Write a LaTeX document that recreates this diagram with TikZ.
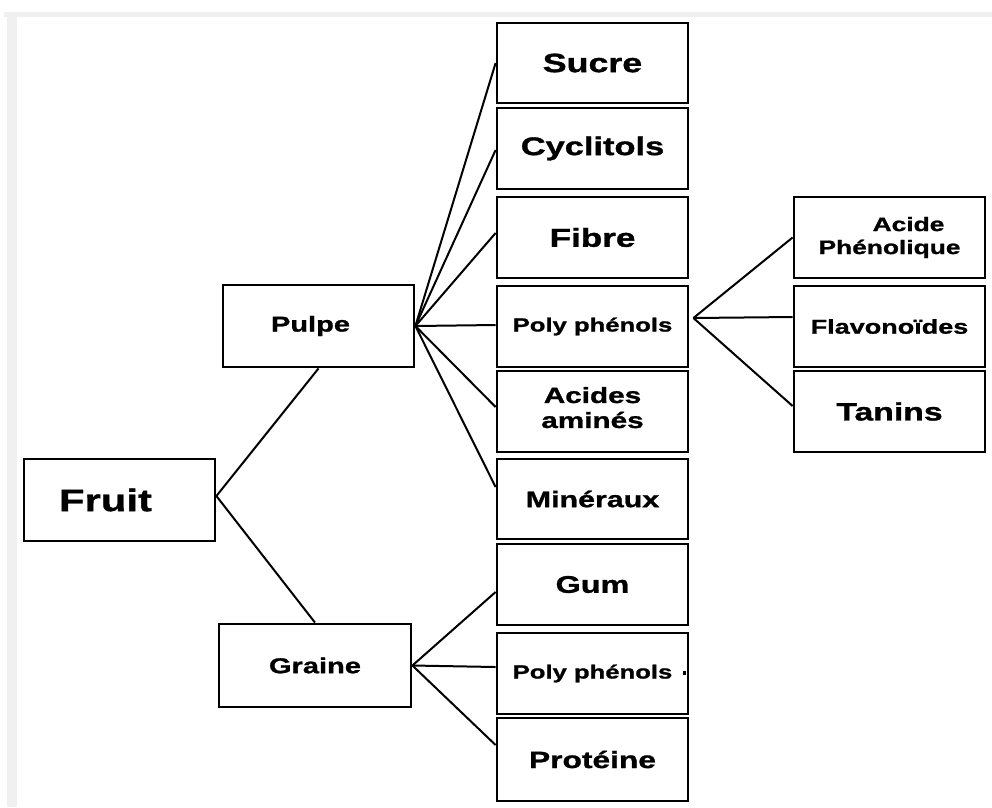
\documentclass[tikz,border=0pt]{standalone}
\usepackage{fontspec}
\newfontfamily\lab{Liberation Sans}[FakeStretch=1.35, FakeBold=1.2]
\tikzset{
  box/.style={draw=black, line width=2.8pt, fill=white, inner sep=0pt, align=center,
    minimum width=191pt, minimum height=81pt},
  conn/.style={draw=black, line width=2pt}
}
\begin{document}
\begin{tikzpicture}[x=1pt,y=-1pt]
\useasboundingbox (0,0) rectangle (992,807);
% faint frame of the original screenshot
\fill[gray!12] (4,12) rectangle (992,17);
\fill[gray!12] (7,12) rectangle (17,807);

% level 0
\node[box, minimum height=82pt, text width=121pt, inner xsep=35pt, align=left,
  font={\lab\bfseries\fontsize{31}{36}\selectfont}] (fruit) at (119.5,500) {Fruit};
% level 1
\node[box, minimum height=82pt, font={\lab\bfseries\fontsize{21.5}{26}\selectfont}] (pulpe) at (318.5,326) {\hspace*{-16pt}Pulpe};
\node[box, minimum width=192pt, minimum height=83pt, font={\lab\bfseries\fontsize{21.5}{26}\selectfont}] (graine) at (315,665.5) {Graine};
% level 2
\node[box, minimum height=80pt, font={\lab\bfseries\fontsize{26.5}{30}\selectfont}] (sucre) at (592.5,63) {Sucre};
\node[box, font={\lab\bfseries\fontsize{25.5}{30}\selectfont}] (cycl) at (592.5,148.5) {Cyclitols};
\node[box, font={\lab\bfseries\fontsize{26}{30}\selectfont}] (fibre) at (592.5,237.5) {Fibre};
\node[box, font={\lab\bfseries\fontsize{19}{23}\selectfont}] (pp1) at (592.5,326.5) {Poly phénols};
\node[box, font={\lab\bfseries\fontsize{22}{25}\selectfont}] (acam) at (592.5,411.5) {Acides\\aminés\\[-17pt]\mbox{}};
\node[box, minimum height=80pt, font={\lab\bfseries\fontsize{22.5}{27}\selectfont}] (min) at (592.5,499) {Minéraux};
\node[box, font={\lab\bfseries\fontsize{24}{28}\selectfont}] (gum) at (592.5,584.5) {Gum};
\node[box, font={\lab\bfseries\fontsize{19}{23}\selectfont}] (pp2) at (592.5,673.5) {Poly phénols};
\node[box, minimum height=83pt, font={\lab\bfseries\fontsize{23.5}{28}\selectfont}] (prot) at (592.5,759.5) {Protéine};
% level 3
\node[box, font={\lab\bfseries\fontsize{19.5}{23}\selectfont}] (acph) at (889.5,237.5) {\hspace*{38pt}Acide\\Phénolique};
\node[box, font={\lab\bfseries\fontsize{20}{24}\selectfont}] (flav) at (889.5,326.5) {Flavonoïdes};
\node[box, font={\lab\bfseries\fontsize{25}{30}\selectfont}] (tan) at (889.5,411.5) {Tanins};

% small stray mark
\fill[black] (683,671) rectangle (686,675);

% connectors
\coordinate (fr) at ([yshift=4pt]fruit.east);
\draw[conn] (fr) -- (pulpe.south);
\draw[conn] (fr) -- (graine.north);

\draw[conn] (pulpe.east) -- (sucre.west);
\draw[conn] (pulpe.east) -- ([yshift=-1.5pt]cycl.west);
\draw[conn] (pulpe.east) -- ([yshift=4.5pt]fibre.west);
\draw[conn] (pulpe.east) -- ([yshift=1.5pt]pp1.west);
\draw[conn] (pulpe.east) -- ([yshift=4.5pt]acam.west);
\draw[conn] (pulpe.east) -- ([yshift=12pt]min.west);

\draw[conn] (graine.east) -- ([yshift=-7.5pt]gum.west);
\draw[conn] (graine.east) -- ([yshift=6.5pt]pp2.west);
\draw[conn] (graine.east) -- ([yshift=14.5pt]prot.west);

\coordinate (ppo) at ([xshift=4pt,yshift=8.5pt]pp1.east);
\draw[conn] (ppo) -- (acph.west);
\draw[conn] (ppo) -- ([yshift=9.5pt]flav.west);
\draw[conn] (ppo) -- ([yshift=5.5pt]tan.west);
\end{tikzpicture}
\end{document}
